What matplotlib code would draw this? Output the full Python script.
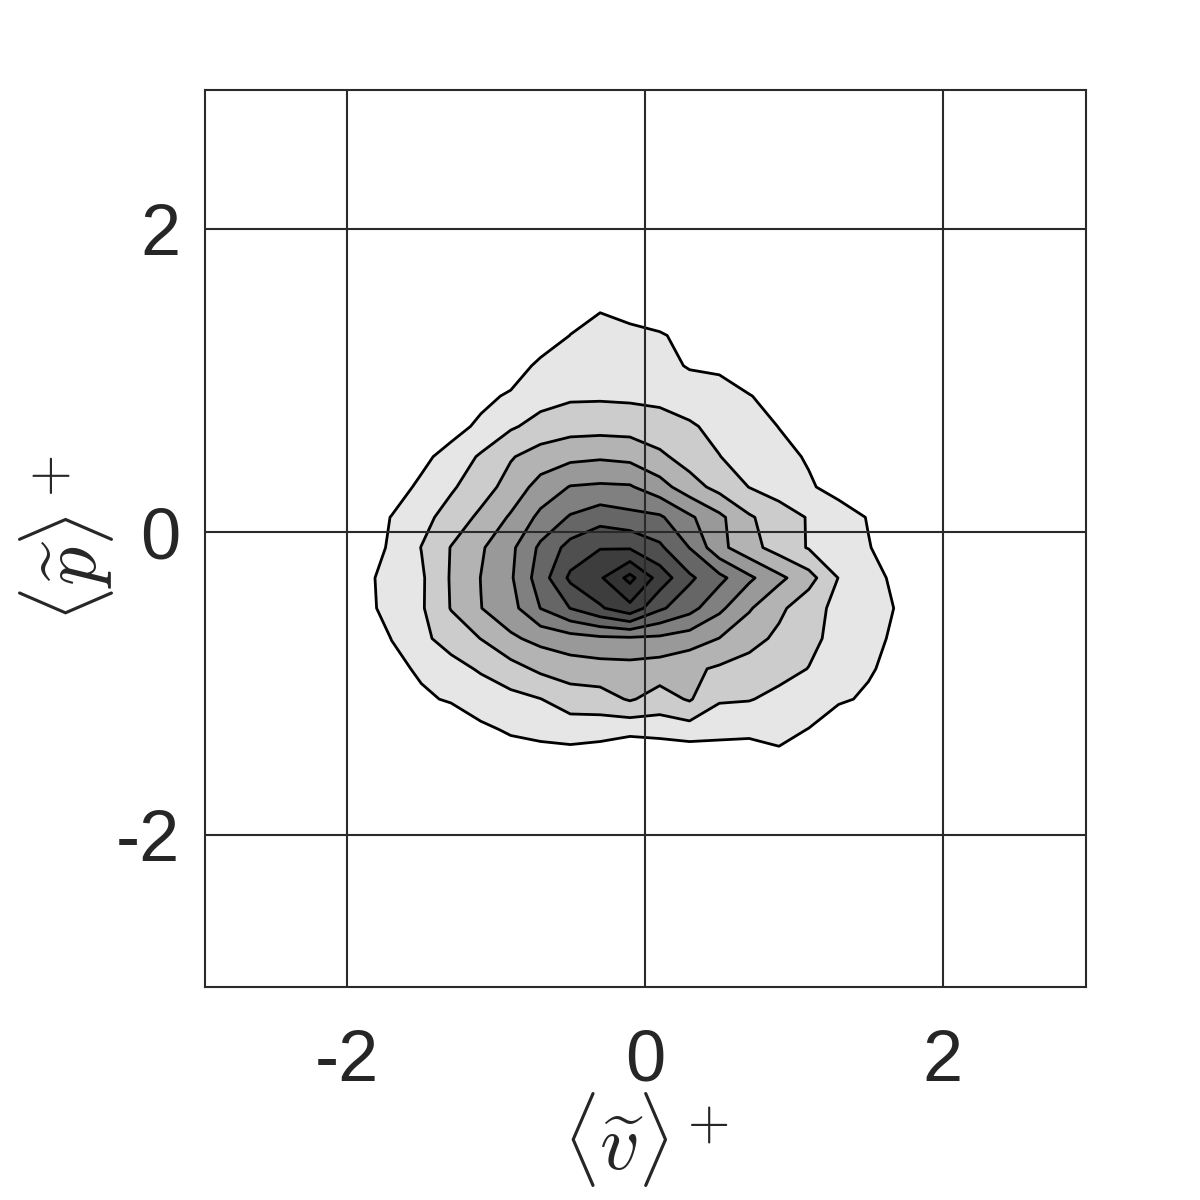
import numpy as np
import matplotlib.pyplot as plt

# grid positions of the joint PDF (read at 0.2 spacing)
v_pos = np.linspace(-2.1, 2.1, 22)
p_pos = np.linspace(-1.7, 1.7, 18)

# PDF level index, rows from top (p=1.7) to bottom (p=-1.7)
rows_top_down = [
    [0, 0, 0, 0, 0, 0, 0, 0, 0, 0, 0, 0, 0, 0, 0, 0, 0, 0, 0, 0, 0, 0],
    [0, 0, 0, 0, 0, 0, 0, 0, 0.4, 0.9, 0.6, 0.3, 0, 0, 0, 0, 0, 0, 0, 0, 0, 0],
    [0, 0, 0, 0, 0, 0, 0, 0.2, 1.02, 1.3, 1.25, 1.1, 0.7, 0, 0, 0, 0, 0, 0, 0, 0, 0],
    [0, 0, 0, 0, 0, 0, 0.3, 1.3, 1.45, 1.5, 1.5, 1.35, 0.91, 0.85, 0.3, 0, 0, 0, 0, 0, 0, 0],
    [0, 0, 0, 0, 0, 0.68, 1.17, 1.63, 1.85, 1.87, 1.82, 1.77, 1.6, 1.35, 1.05, 0.6, 0, 0, 0, 0, 0, 0],
    [0, 0, 0, 0, 0.57, 1.23, 1.87, 2.35, 2.6, 2.63, 2.6, 2.38, 2.1, 1.77, 1.38, 0.98, 0.2, 0, 0, 0, 0, 0],
    [0, 0, 0, 0.73, 1.41, 2.12, 2.92, 3.45, 3.75, 3.87, 3.74, 3.2, 2.57, 2.02, 1.64, 1.27, 0.91, 0.3, 0, 0, 0, 0],
    [0, 0, 0.53, 1.2, 1.87, 2.55, 3.39, 4.38, 5.05, 5.15, 5.1, 4.4, 3.43, 2.67, 1.98, 1.56, 1.11, 0.67, 0.2, 0, 0, 0],
    [0, 0.43, 1.03, 1.68, 2.4, 3.22, 4.12, 5.25, 6.1, 6.6, 6.3, 6.15, 5.17, 4.23, 3.12, 2.49, 1.93, 1.44, 0.95, 0.3, 0, 0],
    [0, 0.32, 1.17, 2.02, 3.04, 3.88, 4.77, 6.2, 7.36, 7.95, 7.9, 7.18, 5.98, 4.29, 3.35, 2.59, 1.93, 1.49, 1.04, 0.6, 0, 0],
    [0, 0.75, 1.31, 1.86, 3.09, 4.02, 4.87, 6.5, 8.2, 8.87, 10.3, 8.58, 7.18, 6.28, 5.19, 4.23, 3.38, 1.97, 1.36, 0.76, 0, 0],
    [0, 0.71, 1.29, 1.88, 3.05, 3.98, 4.63, 6.02, 7.02, 7.87, 8.7, 7.17, 6.36, 5.23, 4.1, 3.22, 2.38, 1.74, 1.28, 0.95, 0, 0],
    [0, 0.2, 1.02, 1.77, 2.41, 3.02, 3.83, 4.3, 4.6, 4.8, 4.85, 4.8, 4.5, 3.98, 3.38, 2.78, 2.22, 1.73, 1.27, 0.82, 0, 0],
    [0, 0, 0.69, 1.17, 1.64, 2.12, 2.63, 3.2, 3.5, 3.6, 3.65, 3.5, 3.2, 2.86, 2.57, 2.29, 1.98, 1.56, 1.11, 0.67, 0, 0],
    [0, 0, 0, 0.82, 1.12, 1.41, 1.71, 1.98, 2.5, 2.6, 3.1, 2.6, 3.1, 2.1, 2.05, 1.77, 1.46, 1.15, 0.85, 0, 0, 0],
    [0, 0, 0, 0, 0.2, 0.85, 1.1, 1.29, 1.48, 1.44, 1.3, 1.43, 1.57, 1.37, 1.26, 1.25, 0.98, 0.3, 0, 0, 0, 0],
    [0, 0, 0, 0, 0, 0, 0.6, 0.56, 0.52, 0.34, 0, 0, 0.15, 0.31, 0.39, 0.8, 0.3, 0, 0, 0, 0, 0],
    [0, 0, 0, 0, 0, 0, 0, 0, 0, 0, 0, 0, 0, 0, 0, 0, 0, 0, 0, 0, 0, 0],
]

levels = [1, 2, 3, 4, 5, 6, 7, 8, 9, 10, 11]
band_grays = [0.90, 0.80, 0.70, 0.60, 0.50, 0.40, 0.31, 0.24, 0.20, 0.17]

ticks = [-2, 0, 2]

plt.rcParams['font.family'] = ['Liberation Sans', 'DejaVu Sans']
plt.rcParams['mathtext.fontset'] = 'cm'
plt.rcParams['axes.unicode_minus'] = False

Z = np.array(rows_top_down[::-1])
V, P = np.meshgrid(v_pos, p_pos)

fig = plt.figure(figsize=(6, 6), dpi=200)
ax = fig.add_axes([0.171, 0.1775, 0.734, 0.7475])

ax.contourf(V, P, Z, levels=levels, colors=[str(g) for g in band_grays])
ax.contour(V, P, Z, levels=levels[:-1], colors='k', linewidths=1.0)

ax.set_xlim(-2.95, 2.96)
ax.set_ylim(-3.0, 2.92)
ax.set_xticks(ticks)
ax.set_yticks(ticks)
ax.grid(True, color='#2a2a2a', linewidth=0.75)
ax.set_axisbelow(False)
ax.tick_params(length=0, labelsize=26, colors='#262626')
ax.tick_params(axis='x', pad=15)
ax.tick_params(axis='y', pad=9)
for s in ax.spines.values():
    s.set_color('#2a2a2a')
    s.set_linewidth(0.75)

ax.set_xlabel(r'$\langle\widetilde{v}\rangle^+$', fontsize=28, color='#262626', labelpad=-2)
ax.set_ylabel(r'$\langle\widetilde{p}\rangle^+$', fontsize=28, color='#262626', labelpad=0)

fig.savefig('out.png', dpi=200)
